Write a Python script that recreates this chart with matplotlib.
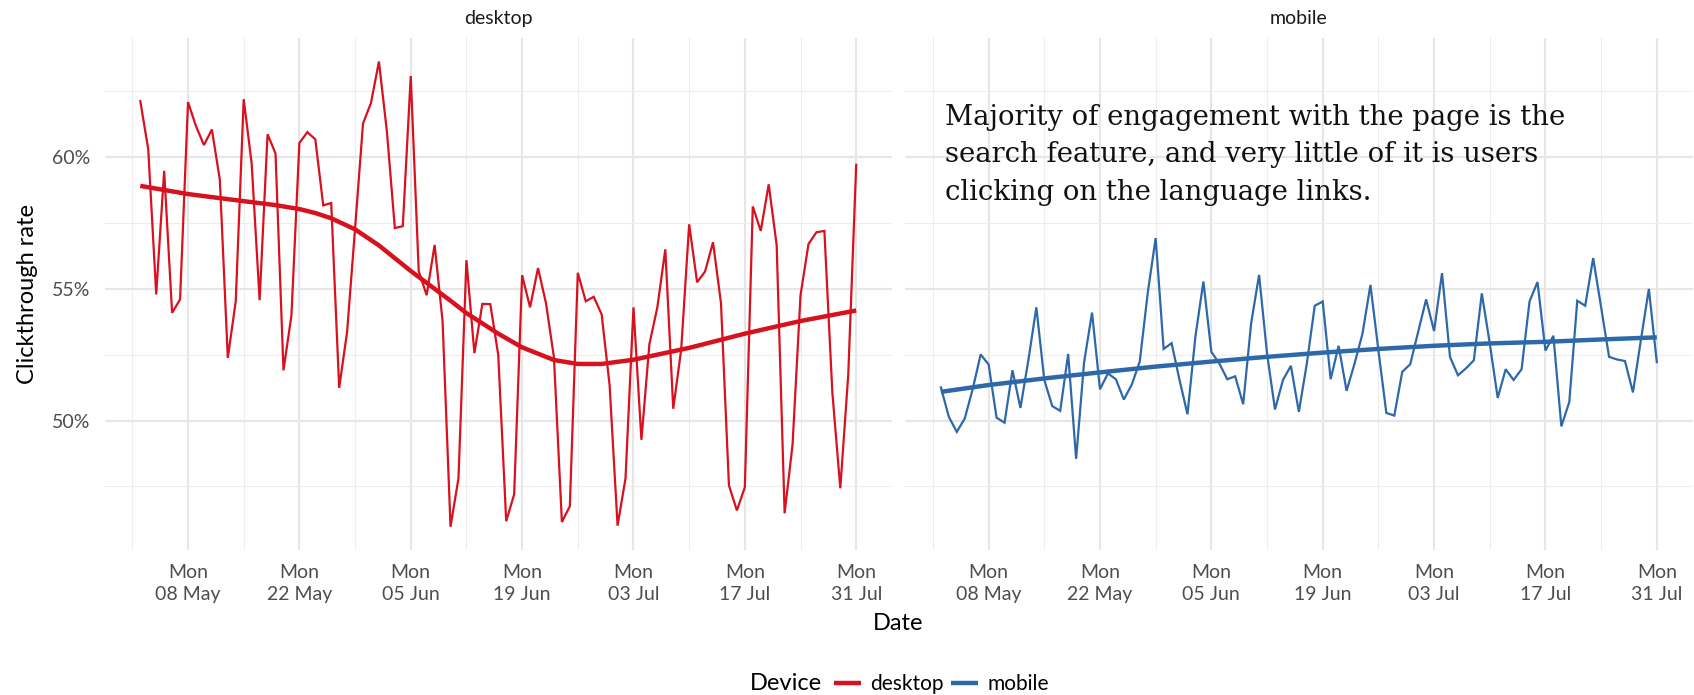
import numpy as np
import pandas as pd
import matplotlib
matplotlib.use('Agg')
import matplotlib.pyplot as plt
import matplotlib.dates as mdates
from matplotlib.ticker import FuncFormatter, FixedLocator

# ---------------- data ----------------
dates = pd.date_range('2017-05-02', '2017-07-31', freq='D')

desktop_ctr = [62.13, 60.30, 54.79, 59.48, 54.09, 54.60, 62.09, 61.18, 60.46, 61.05,
               59.14, 52.38, 54.53, 62.20, 59.76, 54.57, 60.87, 60.14, 51.91, 53.99,
               60.54, 60.95, 60.68, 58.17, 58.26, 51.24, 53.37, 57.30, 61.28, 62.06,
               63.63, 60.98, 57.31, 57.38, 63.08, 55.68, 54.76, 56.67, 53.78, 45.97,
               47.81, 56.09, 52.56, 54.43, 54.42, 52.49, 46.18, 47.20, 55.52, 54.30,
               55.79, 54.46, 52.40, 46.15, 46.75, 55.61, 54.53, 54.70, 54.03, 51.34,
               46.01, 47.81, 54.30, 49.27, 52.90, 54.30, 56.50, 50.45, 52.70, 57.45,
               55.25, 55.66, 56.77, 54.46, 47.54, 46.59, 47.47, 58.13, 57.20, 58.97,
               56.66, 46.48, 49.10, 54.76, 56.70, 57.15, 57.20, 51.07, 47.43, 51.74,
               59.71]

mobile_ctr = [51.26, 50.14, 49.57, 50.08, 51.20, 52.51, 52.13, 50.11, 49.92, 51.91,
              50.48, 52.30, 54.30, 51.54, 50.55, 50.37, 52.53, 48.55, 52.21, 54.10,
              51.19, 51.79, 51.57, 50.80, 51.37, 52.24, 54.84, 56.93, 52.72, 52.94,
              51.54, 50.24, 53.20, 55.28, 52.61, 52.17, 51.57, 51.68, 50.62, 53.69,
              55.53, 52.55, 50.42, 51.54, 52.08, 50.33, 52.16, 54.36, 54.52, 51.57,
              52.84, 51.13, 52.16, 53.30, 55.15, 52.67, 50.29, 50.19, 51.85, 52.14,
              53.37, 54.60, 53.40, 55.60, 52.42, 51.72, 51.98, 52.29, 54.83, 52.93,
              50.86, 51.95, 51.54, 51.95, 54.52, 55.26, 52.66, 53.22, 49.78, 50.71,
              54.55, 54.36, 56.17, 54.30, 52.42, 52.32, 52.26, 51.07, 53.06, 55.00,
              52.22]

# smoothed trend, dates and values
desktop_smooth_dates = ['2017-05-02', '2017-05-08', '2017-05-15', '2017-05-19', '2017-05-22',
                        '2017-05-24', '2017-05-26', '2017-05-29', '2017-06-01', '2017-06-05',
                        '2017-06-10', '2017-06-12', '2017-06-16', '2017-06-19', '2017-06-23',
                        '2017-06-26', '2017-06-29', '2017-07-03', '2017-07-10', '2017-07-17',
                        '2017-07-24', '2017-07-31']
desktop_smooth = [58.91, 58.60, 58.33, 58.18, 58.03, 57.88, 57.68, 57.26, 56.65, 55.68,
                  54.55, 54.08, 53.30, 52.78, 52.30, 52.15, 52.15, 52.31, 52.76, 53.30,
                  53.78, 54.18]

mobile_smooth_dates = ['2017-05-02', '2017-05-08', '2017-05-15', '2017-05-22', '2017-05-29',
                       '2017-06-05', '2017-06-12', '2017-06-19', '2017-06-26', '2017-07-03',
                       '2017-07-10', '2017-07-17', '2017-07-24', '2017-07-31']
mobile_smooth = [51.09, 51.35, 51.60, 51.83, 52.05, 52.24, 52.42, 52.58, 52.72, 52.84,
                 52.93, 52.99, 53.08, 53.16]

devices = ['desktop', 'mobile']
device_colors = ['#D7111E', '#2D69A9']

major_ticks = ['2017-05-08', '2017-05-22', '2017-06-05', '2017-06-19',
               '2017-07-03', '2017-07-17', '2017-07-31']
minor_ticks = ['2017-05-01', '2017-05-15', '2017-05-29', '2017-06-12',
               '2017-06-26', '2017-07-10', '2017-07-24']
y_major = [50, 55, 60]
y_minor = [47.5, 52.5, 57.5, 62.5]

note = ("Majority of engagement with the page is the\n"
        "search feature, and very little of it is users\n"
        "clicking on the language links.")

# ---------------- figure ----------------
FONT = 'Lato'
plt.rcParams['font.family'] = [FONT, 'DejaVu Sans']

W, H = 1694, 695
fig = plt.figure(figsize=(W / 100, H / 100), dpi=100)


def frame(l, t, r, b):
    return [l / W, 1 - b / H, (r - l) / W, (b - t) / H]


ax1 = fig.add_axes(frame(104.5, 38.3, 892.0, 550.0))
ax2 = fig.add_axes(frame(905.1, 38.3, 1692.6, 550.0), sharey=ax1, sharex=ax1)
axes = [ax1, ax2]

series = [desktop_ctr, mobile_ctr]
smooth_dates = [desktop_smooth_dates, mobile_smooth_dates]
smooth_vals = [desktop_smooth, mobile_smooth]
handles = []
for ax, name, vals, sd, sv, col in zip(axes, devices, series, smooth_dates,
                                        smooth_vals, device_colors):
    ax.plot(dates, vals, color=col, lw=1.6, solid_joinstyle='miter', zorder=3)
    h, = ax.plot(pd.to_datetime(sd), sv, color=col, lw=3.2, zorder=4,
                 solid_capstyle='butt', solid_joinstyle='round')
    handles.append(h)
    ax.set_title(name, fontsize=14, color='#1A1A1A', pad=10)

major_dt = pd.to_datetime(major_ticks).to_pydatetime()
minor_dt = pd.to_datetime(minor_ticks).to_pydatetime()

for ax in axes:
    ax.margins(x=0.05, y=0.05)
    for s in ax.spines.values():
        s.set_visible(False)
    ax.xaxis.set_major_locator(FixedLocator(mdates.date2num(major_dt)))
    ax.xaxis.set_minor_locator(FixedLocator(mdates.date2num(minor_dt)))
    ax.xaxis.set_major_formatter(mdates.DateFormatter('%a\n%d %b'))
    ax.yaxis.set_major_locator(FixedLocator(y_major))
    ax.yaxis.set_minor_locator(FixedLocator(y_minor))
    ax.yaxis.set_major_formatter(FuncFormatter(lambda v, p: f'{v:.0f}%'))
    ax.grid(True, which='major', color='#E6E6E6', lw=1.5, zorder=0)
    ax.grid(True, which='minor', color='#EDEDED', lw=0.8, zorder=0)
    ax.set_axisbelow(True)
    ax.tick_params(which='both', length=0)
    ax.tick_params(axis='x', labelsize=14, labelcolor='#4D4D4D', pad=10)
    ax.tick_params(axis='y', labelsize=14, labelcolor='#4D4D4D', pad=10)
    for lab in ax.get_xticklabels():
        lab.set_linespacing(1.35)

ax2.tick_params(axis='y', labelleft=False)

ax1.set_ylabel('Clickthrough rate', fontsize=17, labelpad=10)

fig.text((104.5 + 1692.6) / 2 / W, 1 - 624 / H, 'Date', fontsize=17,
         ha='center', va='center')

# annotation (last line baseline placement)
ax2.text(0.0505, 1 - (200 - 38.3) / (550 - 38.3), note, transform=ax2.transAxes,
         family='DejaVu Serif', fontsize=19.8, ha='left', va='baseline',
         linespacing=1.50, color='#111111', zorder=5)

# legend
fig.text(822 / W, 1 - 684 / H, 'Device', fontsize=17, ha='right', va='center')
fig.legend(handles, devices, loc='center left', bbox_to_anchor=(834 / W, 1 - 684 / H),
           ncol=2, frameon=False, fontsize=15, handlelength=1.3, handletextpad=0.42,
           columnspacing=0.38, borderpad=0, borderaxespad=0)

fig.savefig('out.png', dpi=100)
